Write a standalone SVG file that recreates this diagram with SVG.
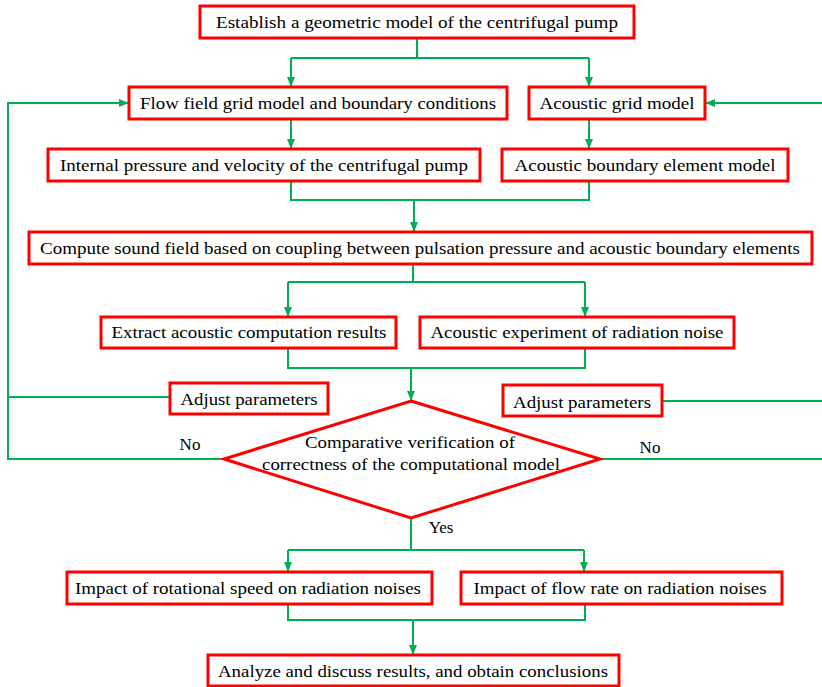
<svg xmlns="http://www.w3.org/2000/svg" width="822" height="687" viewBox="0 0 822 687">
<style>
.box{fill:#fff;stroke:#ff0000;stroke-width:3}
.t{font-family:'Liberation Serif','DejaVu Serif','Times New Roman',serif;font-size:17px;fill:#000;text-anchor:middle}
.c{fill:none;stroke:#00b050;stroke-width:2}
</style>
<defs>
<marker id="ah" markerWidth="10" markerHeight="10" refX="9" refY="5" orient="auto" markerUnits="userSpaceOnUse">
<path d="M0,1 L10,5 L0,9 Z" fill="#00b050"/>
</marker>
</defs>
<rect width="822" height="687" fill="#fff"/>
<g id="connectors">
<path class="c" d="M417,38 V58 M291,58 H589"/>
<path class="c" d="M291,58 V86" marker-end="url(#ah)"/>
<path class="c" d="M589,58 V86" marker-end="url(#ah)"/>
<path class="c" d="M291,119 V148" marker-end="url(#ah)"/>
<path class="c" d="M589,119 V148" marker-end="url(#ah)"/>
<path class="c" d="M291,181 V200 H589 V181"/>
<path class="c" d="M414,200 V231" marker-end="url(#ah)"/>
<path class="c" d="M413,264 V282 M288,282 H585"/>
<path class="c" d="M288,282 V316" marker-end="url(#ah)"/>
<path class="c" d="M585,282 V316" marker-end="url(#ah)"/>
<path class="c" d="M288,348 V368 H585 V348"/>
<path class="c" d="M411,368 V400" marker-end="url(#ah)"/>
<path class="c" d="M224,459 H8 V103 H128" marker-end="url(#ah)"/>
<path class="c" d="M170,397 H8"/>
<path class="c" d="M600,459 H822"/>
<path class="c" d="M662,401 H822"/>
<path class="c" d="M822,103 H706" marker-end="url(#ah)"/>
<path class="c" d="M411,518 V550 M288,550 H584"/>
<path class="c" d="M288,550 V571" marker-end="url(#ah)"/>
<path class="c" d="M584,550 V571" marker-end="url(#ah)"/>
<path class="c" d="M288,604 V620 H585 V604"/>
<path class="c" d="M413,620 V654" marker-end="url(#ah)"/>
</g>
<g id="n1"><rect class="box" x="200" y="6" width="434" height="32"/><text class="t" x="417" y="28" textLength="402" lengthAdjust="spacingAndGlyphs">Establish a geometric model of the centrifugal pump</text></g>
<g id="n2"><rect class="box" x="129" y="87" width="378" height="32"/><text class="t" x="318" y="109" textLength="356" lengthAdjust="spacingAndGlyphs">Flow field grid model and boundary conditions</text></g>
<g id="n3"><rect class="box" x="529" y="87" width="176" height="32"/><text class="t" x="617" y="109" textLength="155" lengthAdjust="spacingAndGlyphs">Acoustic grid model</text></g>
<g id="n4"><rect class="box" x="48" y="149" width="432" height="32"/><text class="t" x="264" y="171" textLength="408" lengthAdjust="spacingAndGlyphs">Internal pressure and velocity of the centrifugal pump</text></g>
<g id="n5"><rect class="box" x="502" y="149" width="286" height="32"/><text class="t" x="645" y="171" textLength="261" lengthAdjust="spacingAndGlyphs">Acoustic boundary element model</text></g>
<g id="n6"><rect class="box" x="29" y="232" width="783" height="32"/><text class="t" x="420" y="254" textLength="760" lengthAdjust="spacingAndGlyphs">Compute sound field based on coupling between pulsation pressure and acoustic boundary elements</text></g>
<g id="n7"><rect class="box" x="101" y="317" width="295" height="31"/><text class="t" x="249" y="338" textLength="275" lengthAdjust="spacingAndGlyphs">Extract acoustic computation results</text></g>
<g id="n8"><rect class="box" x="420" y="317" width="314" height="31"/><text class="t" x="577" y="338" textLength="293" lengthAdjust="spacingAndGlyphs">Acoustic experiment of radiation noise</text></g>
<g id="n9"><rect class="box" x="170" y="383" width="158" height="31"/><text class="t" x="249" y="405" textLength="137" lengthAdjust="spacingAndGlyphs">Adjust parameters</text></g>
<g id="n10"><rect class="box" x="503" y="385" width="159" height="31"/><text class="t" x="582" y="408" textLength="138" lengthAdjust="spacingAndGlyphs">Adjust parameters</text></g>
<g id="n11"><polygon points="411,401 600,459 411,518 224,459" fill="#fff" stroke="#ff0000" stroke-width="3"/><text class="t" x="410" y="448" textLength="210" lengthAdjust="spacingAndGlyphs">Comparative verification of</text><text class="t" x="411" y="470" textLength="298" lengthAdjust="spacingAndGlyphs">correctness of the computational model</text></g>
<g id="labels"><text class="t" x="190" y="450">No</text><text class="t" x="650" y="453">No</text><text class="t" x="441" y="533">Yes</text></g>
<g id="n12"><rect class="box" x="67" y="572" width="365" height="32"/><text class="t" x="248" y="594" textLength="346" lengthAdjust="spacingAndGlyphs">Impact of rotational speed on radiation noises</text></g>
<g id="n13"><rect class="box" x="461" y="572" width="321" height="32"/><text class="t" x="620" y="594" textLength="293" lengthAdjust="spacingAndGlyphs">Impact of flow rate on radiation noises</text></g>
<g id="n14"><rect class="box" x="208" y="655" width="411" height="31"/><text class="t" x="413" y="677" textLength="390" lengthAdjust="spacingAndGlyphs">Analyze and discuss results, and obtain conclusions</text></g>
</svg>
